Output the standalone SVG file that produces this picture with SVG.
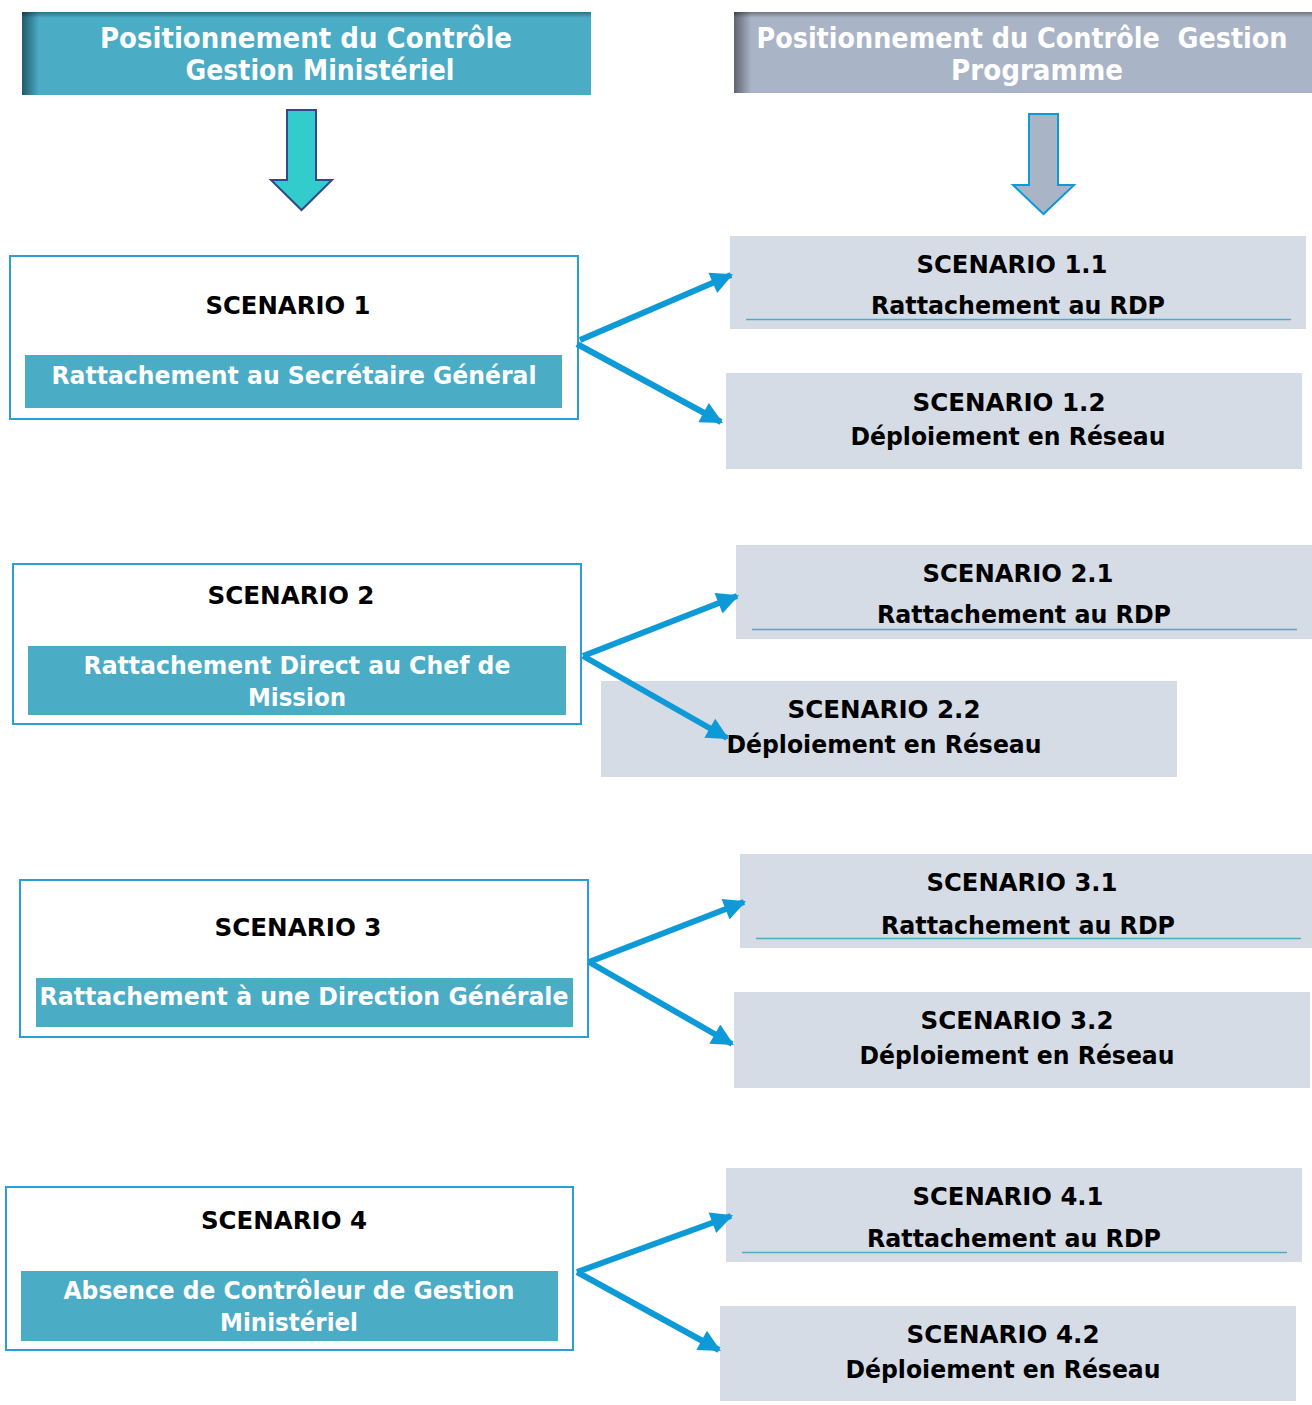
<svg xmlns="http://www.w3.org/2000/svg" width="1312" height="1405" viewBox="0 0 1312 1405">
  <defs>
    <style>
      text { font-family: "DejaVu Sans Condensed", "DejaVu Sans", Verdana, sans-serif; font-weight: bold; text-anchor: middle; }
      .hd { fill: #ffffff; font-size: 28px; }
      .tt { fill: #000000; font-size: 25px; }
      .bt { fill: #ffffff; font-size: 25px; }
      .frame { fill: #ffffff; stroke: #2A9FD6; stroke-width: 2; }
      .band { fill: #4BACC6; }
      .opt { fill: #D6DCE5; }
      .rule { stroke: #4BACC6; stroke-width: 1.5; }
      .conn { fill: none; stroke: #0E9AD7; stroke-width: 6; }
    </style>
    <linearGradient id="hdTealX" x1="0" y1="0" x2="1" y2="0">
      <stop offset="0" stop-color="#1E5B6A"/>
      <stop offset="0.03" stop-color="#4BACC6"/>
      <stop offset="1" stop-color="#4BACC6"/>
    </linearGradient>
    <linearGradient id="hdGreyX" x1="0" y1="0" x2="1" y2="0">
      <stop offset="0" stop-color="#5E6470"/>
      <stop offset="0.03" stop-color="#AAB4C7"/>
      <stop offset="1" stop-color="#AAB4C7"/>
    </linearGradient>
    <linearGradient id="hdTopShade" x1="0" y1="0" x2="0" y2="1">
      <stop offset="0" stop-color="#000000" stop-opacity="0.35"/>
      <stop offset="0.07" stop-color="#000000" stop-opacity="0"/>
      <stop offset="1" stop-color="#000000" stop-opacity="0"/>
    </linearGradient>
    <marker id="head" viewBox="0 0 10 10" refX="9" refY="5" markerUnits="userSpaceOnUse" markerWidth="26" markerHeight="22" orient="auto">
      <path d="M0,0 L10,5 L0,10 z" fill="#0E9AD7"/>
    </marker>
  </defs>

  <!-- column headings -->
  <g id="header-ministeriel">
    <rect x="22" y="12" width="569" height="83" fill="url(#hdTealX)"/>
    <rect x="22" y="12" width="569" height="83" fill="url(#hdTopShade)"/>
    <text class="hd" x="306" y="48" textLength="412" lengthAdjust="spacingAndGlyphs">Positionnement du Contrôle</text>
    <text class="hd" x="320" y="80" textLength="269" lengthAdjust="spacingAndGlyphs">Gestion Ministériel</text>
  </g>
  <g id="header-programme">
    <rect x="734" y="12" width="578" height="81" fill="url(#hdGreyX)"/>
    <rect x="734" y="12" width="578" height="81" fill="url(#hdTopShade)"/>
    <text class="hd" x="1022" y="48" textLength="531" lengthAdjust="spacingAndGlyphs" xml:space="preserve">Positionnement du Contrôle  Gestion</text>
    <text class="hd" x="1037" y="80" textLength="172" lengthAdjust="spacingAndGlyphs">Programme</text>
  </g>

  <!-- block arrows under the headings -->
  <g id="down-arrow-ministeriel">
    <path d="M287,110 L316,110 L316,180 L332,180 L301.5,210 L271,180 L287,180 z" fill="#33CCCC" stroke="#2E4A8A" stroke-width="2"/>
  </g>
  <g id="down-arrow-programme">
    <path d="M1029,114 L1058,114 L1058,185 L1074,185 L1043.5,214 L1013,185 L1029,185 z" fill="#AAB4C7" stroke="#0E9AD7" stroke-width="2"/>
  </g>

  <!-- scenario boxes, left column -->
  <g id="scenario-1">
    <rect class="frame" x="10" y="256" width="568" height="163"/>
    <text class="tt" x="288" y="314" textLength="165" lengthAdjust="spacingAndGlyphs">SCENARIO 1</text>
    <rect class="band" x="25" y="355" width="537" height="53"/>
    <text class="bt" x="294" y="384" textLength="485" lengthAdjust="spacingAndGlyphs">Rattachement au Secrétaire Général</text>
  </g>
  <g id="scenario-2">
    <rect class="frame" x="13" y="564" width="568" height="160"/>
    <text class="tt" x="291" y="604" textLength="167" lengthAdjust="spacingAndGlyphs">SCENARIO 2</text>
    <rect class="band" x="28" y="646" width="538" height="69"/>
    <text class="bt" x="297" y="674" textLength="427" lengthAdjust="spacingAndGlyphs">Rattachement Direct au Chef de</text>
    <text class="bt" x="297" y="706" textLength="98" lengthAdjust="spacingAndGlyphs">Mission</text>
  </g>
  <g id="scenario-3">
    <rect class="frame" x="20" y="880" width="568" height="157"/>
    <text class="tt" x="298" y="936" textLength="167" lengthAdjust="spacingAndGlyphs">SCENARIO 3</text>
    <rect class="band" x="36" y="978" width="537" height="49"/>
    <text class="bt" x="304" y="1005" textLength="529" lengthAdjust="spacingAndGlyphs">Rattachement à une Direction Générale</text>
  </g>
  <g id="scenario-4">
    <rect class="frame" x="6" y="1187" width="567" height="163"/>
    <text class="tt" x="284" y="1229" textLength="166" lengthAdjust="spacingAndGlyphs">SCENARIO 4</text>
    <rect class="band" x="21" y="1271" width="537" height="70"/>
    <text class="bt" x="289" y="1299" textLength="451" lengthAdjust="spacingAndGlyphs">Absence de Contrôleur de Gestion</text>
    <text class="bt" x="289" y="1331" textLength="138" lengthAdjust="spacingAndGlyphs">Ministériel</text>
  </g>

  <!-- sub-scenario boxes, right column -->
  <g id="scenario-1-1">
    <rect class="opt" x="730" y="236" width="576" height="93"/>
    <text class="tt" x="1012" y="273" textLength="191" lengthAdjust="spacingAndGlyphs">SCENARIO 1.1</text>
    <text class="tt" x="1018" y="314" textLength="294" lengthAdjust="spacingAndGlyphs">Rattachement au RDP</text>
    <line class="rule" x1="746" y1="319.5" x2="1291" y2="319.5"/>
  </g>
  <g id="scenario-1-2">
    <rect class="opt" x="726" y="373" width="576" height="96"/>
    <text class="tt" x="1009" y="411" textLength="193" lengthAdjust="spacingAndGlyphs">SCENARIO 1.2</text>
    <text class="tt" x="1008" y="445" textLength="315" lengthAdjust="spacingAndGlyphs">Déploiement en Réseau</text>
  </g>
  <g id="scenario-2-1">
    <rect class="opt" x="736" y="545" width="576" height="94"/>
    <text class="tt" x="1018" y="582" textLength="191" lengthAdjust="spacingAndGlyphs">SCENARIO 2.1</text>
    <text class="tt" x="1024" y="623" textLength="294" lengthAdjust="spacingAndGlyphs">Rattachement au RDP</text>
    <line class="rule" x1="752" y1="629.5" x2="1297" y2="629.5"/>
  </g>
  <g id="scenario-2-2">
    <rect class="opt" x="601" y="681" width="576" height="96"/>
    <text class="tt" x="884" y="718" textLength="193" lengthAdjust="spacingAndGlyphs">SCENARIO 2.2</text>
    <text class="tt" x="884" y="753" textLength="315" lengthAdjust="spacingAndGlyphs">Déploiement en Réseau</text>
  </g>
  <g id="scenario-3-1">
    <rect class="opt" x="740" y="854" width="572" height="94"/>
    <text class="tt" x="1022" y="891" textLength="191" lengthAdjust="spacingAndGlyphs">SCENARIO 3.1</text>
    <text class="tt" x="1028" y="934" textLength="294" lengthAdjust="spacingAndGlyphs">Rattachement au RDP</text>
    <line class="rule" x1="756" y1="938.5" x2="1301" y2="938.5"/>
  </g>
  <g id="scenario-3-2">
    <rect class="opt" x="734" y="992" width="576" height="96"/>
    <text class="tt" x="1017" y="1029" textLength="193" lengthAdjust="spacingAndGlyphs">SCENARIO 3.2</text>
    <text class="tt" x="1017" y="1064" textLength="315" lengthAdjust="spacingAndGlyphs">Déploiement en Réseau</text>
  </g>
  <g id="scenario-4-1">
    <rect class="opt" x="726" y="1168" width="576" height="94"/>
    <text class="tt" x="1008" y="1205" textLength="191" lengthAdjust="spacingAndGlyphs">SCENARIO 4.1</text>
    <text class="tt" x="1014" y="1247" textLength="294" lengthAdjust="spacingAndGlyphs">Rattachement au RDP</text>
    <line class="rule" x1="742" y1="1252.5" x2="1287" y2="1252.5"/>
  </g>
  <g id="scenario-4-2">
    <rect class="opt" x="720" y="1306" width="576" height="95"/>
    <text class="tt" x="1003" y="1343" textLength="193" lengthAdjust="spacingAndGlyphs">SCENARIO 4.2</text>
    <text class="tt" x="1003" y="1378" textLength="315" lengthAdjust="spacingAndGlyphs">Déploiement en Réseau</text>
  </g>

  <!-- branching connectors -->
  <g id="connectors">
    <line class="conn" x1="580" y1="340" x2="731" y2="275" marker-end="url(#head)"/>
    <line class="conn" x1="577" y1="344" x2="721" y2="422" marker-end="url(#head)"/>
    <line class="conn" x1="583" y1="656" x2="737" y2="596" marker-end="url(#head)"/>
    <line class="conn" x1="583" y1="656" x2="727" y2="738" marker-end="url(#head)"/>
    <line class="conn" x1="589" y1="962" x2="744" y2="902" marker-end="url(#head)"/>
    <line class="conn" x1="589" y1="962" x2="732" y2="1044" marker-end="url(#head)"/>
    <line class="conn" x1="577" y1="1272" x2="731" y2="1216" marker-end="url(#head)"/>
    <line class="conn" x1="577" y1="1272" x2="719" y2="1350" marker-end="url(#head)"/>
  </g>
</svg>
